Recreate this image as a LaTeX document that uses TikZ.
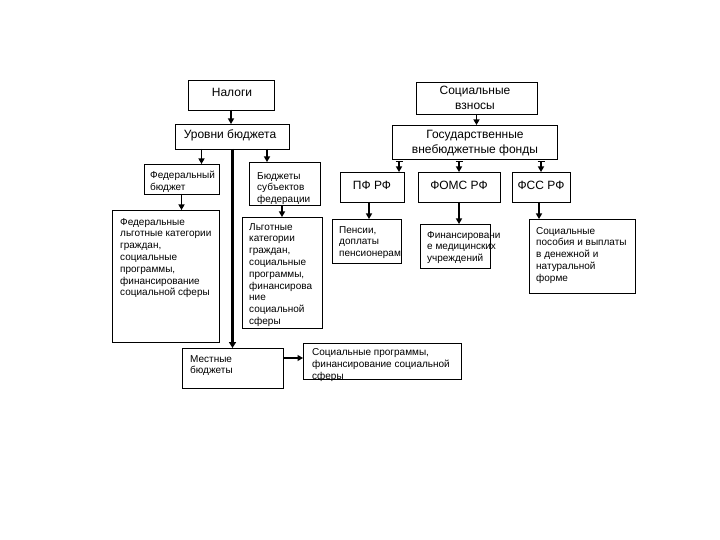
\documentclass[tikz,border=0pt]{standalone}
\usepackage{fontspec}
\setmainfont{Liberation Sans}
\usetikzlibrary{arrows.meta,calc}
\newcommand\bx[5]{\node[box, minimum width={(#4)-(#2)}, minimum height={(#5)-(#3)}] (#1) at (#2,#3) {};}
\begin{document}
\begin{tikzpicture}[x=1pt,y=-1pt,
 box/.style={draw=black, line width=0.9pt, inner sep=0pt, outer sep=0pt, anchor=north west},
 big/.style={font=\fontsize{12}{15}\selectfont, align=center, inner sep=0pt, anchor=north},
 sm/.style={font=\fontsize{10}{11.8}\selectfont, align=left, inner sep=0pt, anchor=north west},
 arr/.style={line width=1.2pt, -{Triangle[length=5.5pt,width=6pt]}},
 tarr/.style={line width=1.2pt, {Bar[width=7pt,line width=1pt]}-{Triangle[length=5.5pt,width=6pt]}},
]
\fill[white] (0,0) rectangle (720,540);
\useasboundingbox (0,0) rectangle (720,540);

% boxes
\bx{nal}{188}{80}{274}{110}
\bx{vzn}{416}{82}{537}{114}
\bx{urv}{175}{124}{289}{149}
\bx{gvf}{392}{125}{557}{159}
\bx{fb}{144}{164}{219}{194}
\bx{bsf}{249}{162}{320}{205}
\bx{pf}{340}{172}{404}{202}
\bx{foms}{418}{172}{500}{202}
\bx{fss}{512}{172}{570}{202}
\bx{flk}{112}{210}{219}{342}
\bx{lk}{242}{217}{322}{328}
\bx{pen}{332}{219}{401}{263}
\bx{fmu}{420}{224}{490}{268}
\bx{spv}{529}{219}{635}{293}
\bx{mb}{182}{348}{283}{388}
\bx{sp}{303}{343}{461}{379}

% texts
\node[big] (tnal) at (232,88.4) {Налоги};
\node[big] (tvzn) at (475,86.4) {Социальные\\взносы};
\node[big] (turv) at (230,129.4) {Уровни бюджета};
\node[big] (tgvf) at (475,130.2) {Государственные\\внебюджетные фонды};
\node[big] (tpf) at (372,181.4) {ПФ РФ};
\node[big] (tfoms) at (459,181.4) {ФОМС РФ};
\node[big] (tfss) at (541,181.4) {ФСС РФ};

\node[sm] (tfb) at (150,171) {Федеральный\\бюджет};
\node[sm] (tbsf) at (257,172) {Бюджеты\\субъектов\\федерации};
\node[sm] (tflk) at (120,218) {Федеральные\\льготные категории\\граждан,\\социальные\\программы,\\финансирование\\социальной сферы};
\node[sm] (tlk) at (249,223) {Льготные\\категории\\граждан,\\социальные\\программы,\\финансирова\\ние\\социальной\\сферы};
\node[sm] (tpen) at (339,226) {Пенсии,\\доплаты\\пенсионерам};
\node[sm] (tfmu) at (427,231) {Финансировани\\е медицинских\\учреждений};
\node[sm] (tspv) at (536,227) {Социальные\\пособия и выплаты\\в денежной и\\натуральной\\форме};
\node[sm] (tmb) at (190,355) {Местные\\бюджеты};
\node[sm, font=\fontsize{10}{12.4}\selectfont] (tsp) at (312,348) {Социальные программы,\\финансирование социальной\\сферы};

% connectors
\draw[arr] (nal.south) -- (nal.south |- urv.north);
\draw[arr] (vzn.south) -- (vzn.south |- gvf.north);
\draw[arr] ([xshift=20pt]fb.north |- urv.south) -- ([xshift=20pt]fb.north);
\draw[arr] (fb.south) -- (fb.south |- flk.north);
\draw[arr] ([xshift=-17.5pt]bsf.north |- urv.south) -- ([xshift=-17.5pt]bsf.north);
\draw[arr] ([xshift=-2.5pt]bsf.south) -- ([xshift=-2.5pt]bsf.south |- lk.north);
\draw[line width=2.4pt, -{Triangle[length=6pt,width=7pt]}] (mb.north |- urv.south) -- (mb.north);
\draw[arr] ([yshift=10pt]mb.east) -- ([yshift=10pt]mb.east -| sp.west);
\draw[tarr] ($([xshift=27pt]pf.north |- gvf.south)+(0,2)$) -- ([xshift=27pt]pf.north);
\draw[tarr] ($(foms.north |- gvf.south)+(0,2)$) -- (foms.north);
\draw[tarr] ($(fss.north |- gvf.south)+(0,2)$) -- (fss.north);
\draw[arr] ([xshift=-3pt]pf.south) -- ([xshift=-3pt]pf.south |- pen.north);
\draw[arr] (foms.south) -- (foms.south |- fmu.north);
\draw[arr] ([xshift=-2pt]fss.south) -- ([xshift=-2pt]fss.south |- spv.north);
\end{tikzpicture}
\end{document}
